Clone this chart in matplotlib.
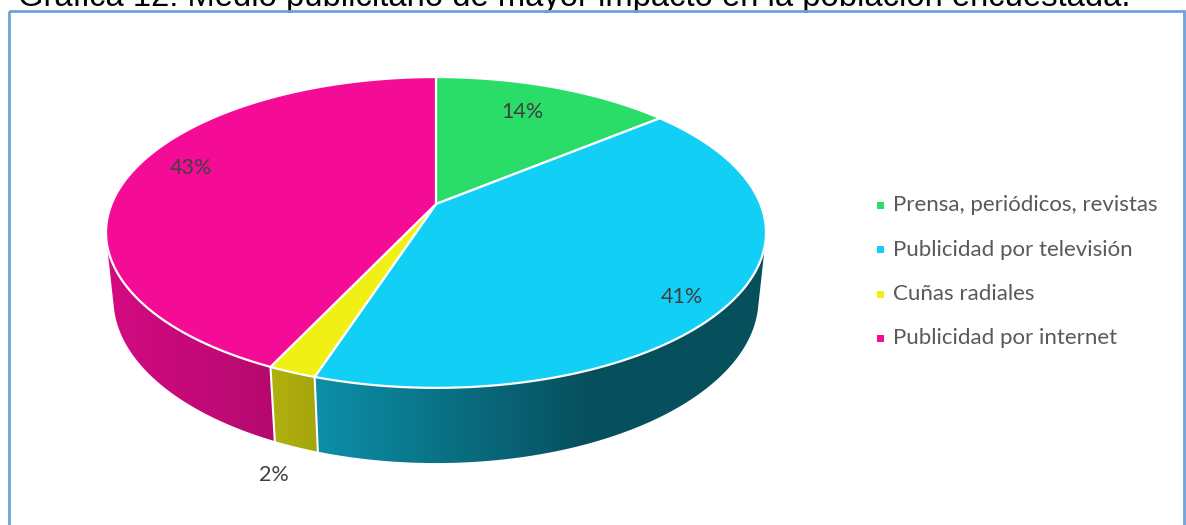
import numpy as np
import matplotlib
matplotlib.use('Agg')
import matplotlib.pyplot as plt
from matplotlib.patches import Polygon, Rectangle

# Survey shares (percent) for each advertising medium
categories = ['Prensa, periódicos, revistas', 'Publicidad por televisión',
              'Cuñas radiales', 'Publicidad por internet']
shares = [14, 41, 2, 43]
top_colors = ['#2adc68', '#12d0f5', '#f0f014', '#f50c96']
title = 'Gráfica 12: Medio publicitario de mayor impacto en la población encuestada.'

# perspective camera for the 3D pie
F = 324.4       # horizontal scale of the top face
a = 0.183       # perspective strength
s, c = 0.463, 0.886   # sin / cos of the tilt
D = c / a
f = F * D
h = 0.234       # thickness of the pie
cx, cy = 436, 204   # screen position of the pie centre


def project(x, y, z):
    depth = D + y * c - z * s
    u = f * x / depth
    v = f * (y * s + z * c) / depth
    return cx + u, cy - v


def arc(t0, t1, z, r=1.0, n=200):
    t = np.radians(np.linspace(t0, t1, n))
    return project(r * np.sin(t), r * np.cos(t), z)


# side shading along screen x
shade_x = [100, 260, 305, 590, 780]
shade_k = [0.87, 0.75, 0.70, 0.38, 0.38]

fig = plt.figure(figsize=(11.86, 5.25), dpi=100)
ax = fig.add_axes([0, 0, 1, 1])
ax.set_xlim(0, 1186)
ax.set_ylim(525, 0)
ax.axis('off')

bounds = np.concatenate([[0], np.cumsum(shares)]) / sum(shares) * 360
# the side of the cylinder faces the camera where cos(phi) < -1/(D*c)
vis = np.degrees(np.arccos(-1 / (D * c)))
vis0, vis1 = vis, 360 - vis

xs = np.arange(0, 1186)
shade = np.interp(xs, shade_x, shade_k)

for i, col in enumerate(top_colors):
    t0, t1 = max(bounds[i], vis0), min(bounds[i + 1], vis1)
    if t1 <= t0:
        continue
    ux, uy = arc(t0, t1, 0)
    bx, by = arc(t1, t0, -h)
    poly = Polygon(np.column_stack([np.r_[ux, bx], np.r_[uy, by]]),
                   closed=True, facecolor='none', edgecolor='none')
    ax.add_patch(poly)
    rgb = np.array(matplotlib.colors.to_rgb(col))
    img = (shade[:, None] * rgb[None, :])[None, :, :]
    im = ax.imshow(img, extent=(0, 1186, 525, 0), aspect='auto',
                   interpolation='bilinear', zorder=1)
    im.set_clip_path(poly)

# white seams on the side between slices
for b in bounds[1:-1]:
    if vis0 < b < vis1:
        x0, y0 = project(np.sin(np.radians(b)), np.cos(np.radians(b)), 0)
        x1, y1 = project(np.sin(np.radians(b)), np.cos(np.radians(b)), -h)
        ax.plot([x0, x1], [y0, y1], color='white', lw=1.5, zorder=2)

# top face
for i, col in enumerate(top_colors):
    ux, uy = arc(bounds[i], bounds[i + 1], 0)
    pts = np.column_stack([np.r_[cx, ux], np.r_[cy, uy]])
    ax.add_patch(Polygon(pts, closed=True, facecolor=col, edgecolor='white',
                         lw=1.6, joinstyle='round', zorder=3))

# data labels (radius, angle nudge, height on the pie)
label_r = [0.75, 0.88, 1.13, 0.83]
label_da = [-1.5, 5, 0, 5]
label_z = [0, 0, -h, 0]
for i, pct in enumerate(shares):
    mid = np.radians((bounds[i] + bounds[i + 1]) / 2 + label_da[i])
    lx, ly = project(label_r[i] * np.sin(mid), label_r[i] * np.cos(mid), label_z[i])
    ax.text(lx, ly, f'{pct}%', ha='center', va='center', fontsize=15.5,
            family='Lato', color='#404040', zorder=4)

# legend
for i, (lab, col) in enumerate(zip(categories, top_colors)):
    yy = 205 + i * 44.5
    ax.add_patch(Rectangle((877, yy - 3.5), 7, 7, facecolor=col, edgecolor='none'))
    ax.text(893, yy, lab, ha='left', va='center', fontsize=16,
            family='Lato', color='#595959')

# chart frame and caption above it
ax.add_patch(Rectangle((9, 11), 1175, 540, facecolor='none',
                       edgecolor='#6fa0dc', lw=2, zorder=5))
ax.text(18, 6, title, ha='left', va='baseline', fontsize=23.6,
        family='Liberation Sans', color='black')

fig.savefig('out.png', dpi=100)
